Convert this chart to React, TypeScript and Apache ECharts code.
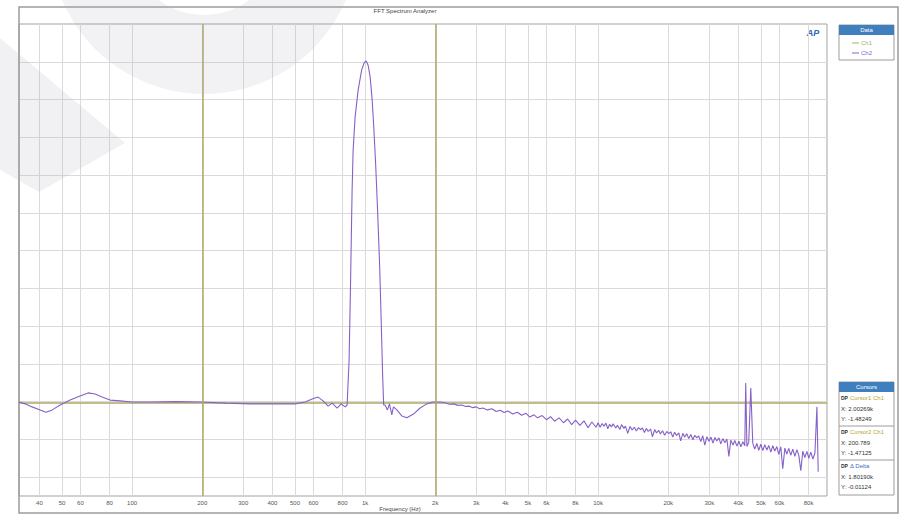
import React, { useEffect, useRef } from 'react';
import * as echarts from 'echarts';

// ---------- data ----------
const FREQ_TICKS = [40, 50, 60, 80, 100, 200, 300, 400, 500, 600, 800, 1000, 2000, 3000, 4000, 5000, 6000, 8000, 10000, 20000, 30000, 40000, 50000, 60000, 80000];
const DB_GRID = [-120, -110, -100, -90, -80, -70, -60, -50, -40, -30, -20, -10];
const X_MIN = 32.7;
const X_MAX = 96000;
const Y_MIN = -125;
const Y_MAX = 0;

const CH1: [number, number][] = [[32.7, -100.4], [1000, -100.4], [96000, -100.4]];
const CURSORS = [200.789, 2002.69];

const CH2_BASS: [number, number][] = [
  [32.7, -100.1], [34.7, -100.6], [37.2, -101.4], [40.3, -102.2], [42.7, -102.8], [45.4, -102.2], [49.1, -100.9],
  [54.2, -99.6], [59.8, -98.5], [64.7, -97.7], [69.4, -98.0], [74.3, -98.8], [80.5, -99.6], [88.8, -99.8], [100, -100.1],
  [120.6, -100.1], [154.5, -100.0], [197.8, -100.1], [253.2, -100.4], [324.1, -100.6], [411, -100.6], [500.6, -100.6],
  [552.6, -100.1], [592.4, -99.3], [628.6, -98.8], [660.3, -99.8], [693.8, -101.2], [721.8, -100.4], [758.4, -101.7],
  [788.9, -100.6], [820.7, -101.4], [836.9, -100.9],
];

const CH2_TONE: [number, number][] = [
  [853.6, -89.0], [866.4, -67.8], [879.3, -44.0], [888.3, -33.4], [905.9, -24.6], [933.3, -17.5], [966.1, -12.2],
  [990.1, -10.3], [1010, -9.8], [1030, -10.9], [1051, -14.0], [1072, -20.1], [1088, -26.7], [1110, -37.3], [1131, -49.3],
  [1154, -63.8], [1172, -78.4], [1189, -93.0], [1201, -100.9], [1218, -100.9], [1247, -102.2], [1272, -100.6],
  [1302, -103.5], [1323, -101.4], [1368, -102.2], [1437, -103.8], [1510, -104.3], [1612, -103.3], [1722, -101.7],
  [1840, -100.6], [1958, -100.1], [2099, -100.1],
];

const CH2_HF: [number, number][] = [
  [2200, -100.3], [2300, -100.7], [2400, -100.6], [2500, -101.0], [2600, -100.9], [2700, -101.3], [2800, -101.2],
  [2900, -101.6], [3000, -101.4], [3100, -101.9], [3200, -101.7], [3350, -102.2], [3500, -101.9], [3650, -102.6],
  [3800, -102.3], [3950, -102.9], [4100, -102.5], [4300, -103.3], [4500, -102.8], [4700, -103.6], [4900, -103.1],
  [5100, -104.1], [5300, -103.5], [5500, -104.3], [5750, -103.7], [6000, -104.8], [6250, -104.0], [6500, -105.2],
  [6800, -104.3], [7100, -105.6], [7400, -104.6], [7700, -106.1], [8000, -104.9], [8350, -106.3], [8700, -105.1],
  [9050, -106.9], [9400, -105.4], [9800, -106.8],
  [10000, -105.6], [10200, -106.8], [10400, -105.8], [10600, -106.5], [10800, -105.7], [11000, -107.2], [11200, -106.0],
  [11400, -106.7], [11600, -105.9], [11900, -107.0], [12100, -106.3], [12400, -107.4], [12600, -106.1], [12900, -107.1],
  [13100, -106.5], [13400, -108.4], [13700, -106.6], [14000, -107.5], [14300, -106.8], [14600, -107.8], [14900, -106.9],
  [15200, -107.4], [15500, -107.0], [15800, -108.2], [16100, -107.1], [16400, -107.9], [16800, -107.3], [17100, -109.3],
  [17500, -107.4], [17800, -108.3], [18200, -107.6], [18500, -108.6], [18900, -107.7], [19300, -108.9], [19700, -107.9],
  [20100, -108.5], [20500, -108.0], [20900, -109.4], [21300, -108.1], [21700, -109.0], [22200, -108.3], [22600, -110.4],
  [23100, -108.4], [23500, -109.4], [24000, -108.5], [24500, -109.8], [25000, -108.7], [25500, -110.1], [26000, -108.9],
  [26500, -109.6], [27000, -109.1], [27600, -110.6], [28100, -109.0], [28700, -111.5], [29300, -109.3], [29900, -110.5],
  [30500, -109.4], [31100, -111.0], [31700, -109.5], [32300, -110.4], [33000, -109.6], [33600, -111.2], [34300, -109.8],
  [35000, -110.9], [35700, -109.9], [36400, -114.5], [37100, -110.2], [37900, -111.5], [38600, -110.3], [39400, -111.8],
  [40200, -110.5], [41000, -112.0], [41800, -110.6], [42600, -111.7], [43000, -95.1], [43500, -111.9], [44300, -110.8],
  [45200, -96.4], [46100, -111.0], [47000, -112.6], [48000, -111.1], [48900, -112.9], [49900, -111.3], [50900, -113.0],
  [51900, -111.4], [53000, -112.8], [54000, -111.6], [55100, -113.4], [56200, -111.7], [57300, -113.1], [58500, -111.9],
  [59600, -114.0], [60800, -112.0], [62000, -117.8], [63300, -112.3], [64500, -113.9], [65800, -112.4], [67100, -114.2],
  [68500, -112.6], [69900, -114.5], [71300, -112.7], [72700, -114.3], [74100, -118.3], [75600, -113.1], [77100, -114.8],
  [78700, -113.2], [80200, -115.0], [81800, -113.4], [83500, -115.2], [85200, -113.6], [86900, -101.4], [88000, -118.6],
];

const LEGEND_ITEMS = ['Ch1', 'Ch2'];
const CURSOR_READOUTS = [
  { label: 'Cursor1 Ch1', x: 'X: 2.00269k', y: 'Y: -1.48249', color: '#b5a531' },
  { label: 'Cursor2 Ch1', x: 'X: 200.789', y: 'Y: -1.47125', color: '#b5a531' },
  { label: '\u0394 Delta', x: 'X: 1.80190k', y: 'Y: -0.01124', color: '#3d6fc0' },
];

// ---------- styles ----------
const OLIVE = '#ada966';
const PURPLE = '#8660c9';
const BLUE = '#3f7fbe';
const FONT = 'Liberation Sans';

function fmtFreq(v: number): string {
  const r = Math.round(v);
  return r >= 1000 ? `${r / 1000}k` : String(r);
}

export default function App() {
  const ref = useRef<HTMLDivElement>(null);

  useEffect(() => {
    if (!ref.current) return;
    const chart = echarts.init(ref.current, undefined, { renderer: 'svg' });

    const ch2 = [...CH2_BASS, ...CH2_TONE, ...CH2_HF];
    const legendColors = [OLIVE, PURPLE];

    const graphic: any[] = [
      // outer frame
      { type: 'rect', silent: true, z: 1, shape: { x: 19, y: 7, width: 879, height: 506 }, style: { fill: 'none', stroke: '#9c9c9c', lineWidth: 1.5 } },
      // title
      { type: 'text', silent: true, x: 405, y: 11, style: { text: 'FFT Spectrum Analyzer', fontSize: 6, fill: '#444', align: 'center', verticalAlign: 'middle', fontFamily: FONT } },
      // axis name
      { type: 'text', silent: true, x: 400, y: 509, style: { text: 'Frequency (Hz)', fontSize: 6, fill: '#444', align: 'center', verticalAlign: 'middle', fontFamily: FONT } },
      // AP logo
      { type: 'text', silent: true, x: 813, y: 33, style: { text: 'AP', fontSize: 9, fontWeight: 'bold', fontStyle: 'italic', fill: '#2f67c2', align: 'center', verticalAlign: 'middle', fontFamily: FONT } },
      // Data legend box
      { type: 'rect', silent: true, shape: { x: 839, y: 25, width: 55, height: 35 }, style: { fill: '#fff', stroke: '#9c9c9c', lineWidth: 1 } },
      { type: 'rect', silent: true, shape: { x: 839, y: 25, width: 55, height: 10 }, style: { fill: BLUE } },
      { type: 'text', silent: true, x: 866.5, y: 30, style: { text: 'Data', fontSize: 6, fill: '#fff', align: 'center', verticalAlign: 'middle', fontFamily: FONT } },
      ...LEGEND_ITEMS.flatMap((name, i) => [
        { type: 'line', silent: true, shape: { x1: 852, y1: 43 + i * 10, x2: 859, y2: 43 + i * 10 }, style: { stroke: legendColors[i], lineWidth: 1 } },
        { type: 'text', silent: true, x: 861, y: 43 + i * 10, style: { text: name, fontSize: 6, fill: legendColors[i], verticalAlign: 'middle', fontFamily: FONT } },
      ]),
      // Cursors box
      { type: 'rect', silent: true, shape: { x: 839, y: 382, width: 55, height: 113 }, style: { fill: '#fff', stroke: '#9c9c9c', lineWidth: 1 } },
      { type: 'rect', silent: true, shape: { x: 839, y: 382, width: 55, height: 10 }, style: { fill: BLUE } },
      { type: 'text', silent: true, x: 866.5, y: 387, style: { text: 'Cursors', fontSize: 6, fill: '#fff', align: 'center', verticalAlign: 'middle', fontFamily: FONT } },
      ...CURSOR_READOUTS.flatMap((c, i) => {
        const by = 398 + i * 34;
        const els: any[] = [
          { type: 'text', silent: true, x: 841, y: by, style: { text: 'DP', fontSize: 5, fontWeight: 'bold', fill: '#333', verticalAlign: 'middle', fontFamily: FONT } },
          { type: 'text', silent: true, x: 850, y: by, style: { text: c.label, fontSize: 6, fill: c.color, verticalAlign: 'middle', fontFamily: FONT } },
          { type: 'text', silent: true, x: 841, y: by + 11, style: { text: c.x, fontSize: 6, fill: '#333', verticalAlign: 'middle', fontFamily: FONT } },
          { type: 'text', silent: true, x: 841, y: by + 21, style: { text: c.y, fontSize: 6, fill: '#333', verticalAlign: 'middle', fontFamily: FONT } },
        ];
        if (i > 0) {
          els.push({ type: 'line', silent: true, shape: { x1: 839, y1: by - 6, x2: 894, y2: by - 6 }, style: { stroke: '#9c9c9c', lineWidth: 1 } });
        }
        return els;
      }),
      // watermark shapes
      { type: 'ring', silent: true, z: 100, shape: { cx: 204, cy: -60, r: 154, r0: 75 }, style: { fill: 'rgba(175,175,190,0.16)' } },
      { type: 'polygon', silent: true, z: 100, shape: { points: [[0, 38], [125, 143], [39, 192], [0, 170]] }, style: { fill: 'rgba(175,175,190,0.18)' } },
    ];

    const option: any = {
      animation: false,
      backgroundColor: '#ffffff',
      grid: { left: 19, right: 90, top: 24, bottom: 19, show: true, borderColor: '#a3a3a3', borderWidth: 1, backgroundColor: '#ffffff' },
      xAxis: {
        type: 'log',
        logBase: 10,
        min: X_MIN,
        max: X_MAX,
        axisLine: { show: false },
        axisTick: { show: false, customValues: FREQ_TICKS },
        axisLabel: { customValues: FREQ_TICKS, formatter: fmtFreq, fontSize: 6, color: '#555', margin: 4, fontFamily: FONT },
        splitLine: { show: true, lineStyle: { color: '#dadada', width: 1 } },
        minorTick: { show: false },
        minorSplitLine: { show: false },
      },
      yAxis: {
        type: 'value',
        min: Y_MIN,
        max: Y_MAX,
        axisLine: { show: false },
        axisLabel: { show: false },
        axisTick: { show: false, customValues: DB_GRID },
        splitLine: { show: true, lineStyle: { color: '#dadada', width: 1 } },
      },
      series: [
        {
          name: 'Ch1',
          type: 'line',
          data: CH1,
          symbol: 'none',
          lineStyle: { color: OLIVE, width: 1.5 },
          markLine: {
            symbol: 'none',
            silent: true,
            label: { show: false },
            lineStyle: { color: OLIVE, width: 1.5, type: 'solid' },
            data: CURSORS.map((v) => ({ xAxis: v })),
          },
        },
        {
          name: 'Ch2',
          type: 'line',
          data: ch2,
          symbol: 'none',
          lineStyle: { color: PURPLE, width: 1.1 },
        },
      ],
      graphic,
    };

    chart.setOption(option);
    return () => chart.dispose();
  }, []);

  return <div ref={ref} style={{ position: 'fixed', left: 0, top: 0, width: 917, height: 515 }} />;
}
